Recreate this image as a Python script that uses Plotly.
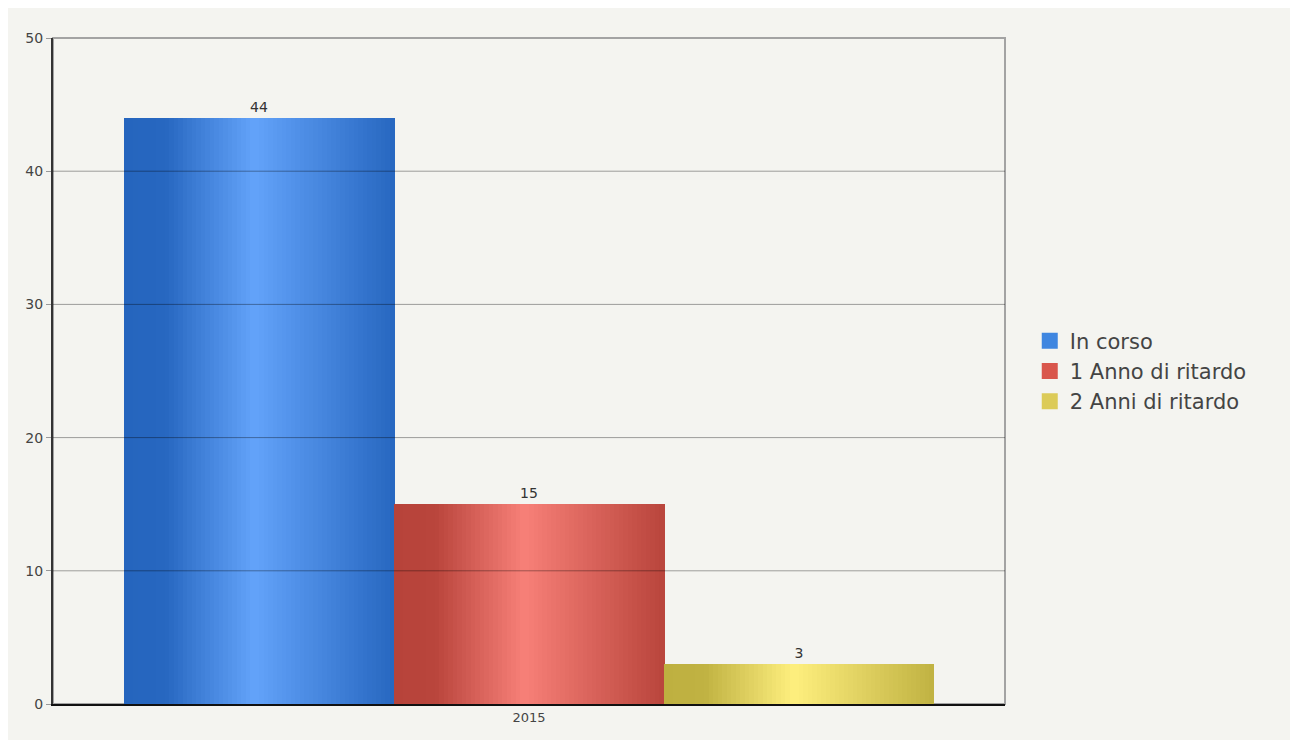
import plotly.graph_objects as go

# ---- data ----
categories = ["2015"]
series_names = ["In corso", "1 Anno di ritardo", "2 Anni di ritardo"]
series_values = [44, 15, 3]
y_ticks = [0, 10, 20, 30, 40, 50]

# ---- styles ----
dark_cols = [(37, 101, 190), (183, 67, 58), (190, 176, 64)]
light_cols = [(99, 163, 250), (247, 128, 120), (254, 239, 126)]
legend_cols = ["#3f86e0", "#d9564c", "#dccb58"]

W, H = 1290, 732
ML, MR, MT, MB = 45, 293, 30, 36

group_width = 0.85
bar_w = group_width / len(series_values)
N = 60


def profile(t):
    # piecewise-linear lightness profile across a bar
    pts = [(0.0, 0.0), (0.15, 0.03), (0.48, 1.0), (1.0, 0.03)]
    for (a, va), (b, vb) in zip(pts[:-1], pts[1:]):
        if a <= t <= b:
            return va + (vb - va) * (t - a) / (b - a)
    return 0.0


def mix(c1, c2, f):
    return "rgb(%d,%d,%d)" % tuple(round(x + (y - x) * f) for x, y in zip(c1, c2))


fig = go.Figure()

for i, (name, val) in enumerate(zip(series_names, series_values)):
    off = -group_width / 2 + i * bar_w
    # base trace: value label
    fig.add_trace(go.Bar(
        x=categories, y=[val], name=name, width=bar_w, offset=off,
        marker=dict(color=legend_cols[i], line=dict(width=0)),
        text=[str(val)], textposition="outside", cliponaxis=False,
        textfont=dict(family="DejaVu Sans", size=14, color="#333333"),
        hoverinfo="name+y", showlegend=False, legendgroup=name,
    ))
    # gradient slices
    for k in range(N):
        t = (k + 0.5) / N
        fig.add_trace(go.Bar(
            x=categories, y=[val], width=bar_w / N * 1.15,
            offset=off + k * bar_w / N,
            marker=dict(color=mix(dark_cols[i], light_cols[i], profile(t)), line=dict(width=0)),
            showlegend=False, hoverinfo="skip", legendgroup=name,
        ))
    # legend entry (square swatch)
    fig.add_trace(go.Scatter(
        x=[None], y=[None], mode="markers", name=name, legendgroup=name,
        marker=dict(symbol="square", size=16, color=legend_cols[i]),
    ))

shapes = []
# plot border (top/right grey)
shapes.append(dict(type="rect", xref="paper", yref="paper", x0=0, x1=1, y0=0, y1=1,
                   line=dict(color="#a3a3a3", width=2), layer="below"))
# gridlines drawn over the bars
for v in y_ticks[1:-1]:
    shapes.append(dict(type="line", xref="paper", yref="y", x0=0, x1=1, y0=v, y1=v,
                       line=dict(color="rgba(0,0,0,0.36)", width=1), layer="above"))

fig.update_layout(
    width=W, height=H,
    margin=dict(l=ML, r=MR, t=MT, b=MB),
    paper_bgcolor="#f4f4f0", plot_bgcolor="#f4f4f0",
    barmode="overlay", bargap=0,
    font=dict(family="DejaVu Sans", color="#444444"),
    showlegend=True,
    legend=dict(x=1.026, y=0.5, xanchor="left", yanchor="middle",
                font=dict(family="DejaVu Sans", size=21, color="#444444"),
                bgcolor="rgba(0,0,0,0)", itemsizing="trace", tracegroupgap=0),
    shapes=shapes,
)
fig.update_xaxes(type="category", range=[-0.5, 0.5], showgrid=False,
                 showline=True, linecolor="#111111", linewidth=2,
                 ticks="", tickfont=dict(family="DejaVu Sans", size=13, color="#444444"),
                 fixedrange=True)
fig.update_yaxes(range=[0, 50], tickvals=y_ticks, showgrid=False, zeroline=False,
                 showline=True, linecolor="#333333", linewidth=2,
                 ticks="outside", ticklen=5, tickcolor="#999999",
                 tickfont=dict(family="DejaVu Sans", size=14, color="#444444"),
                 fixedrange=True)

fig.write_html("out.html")
